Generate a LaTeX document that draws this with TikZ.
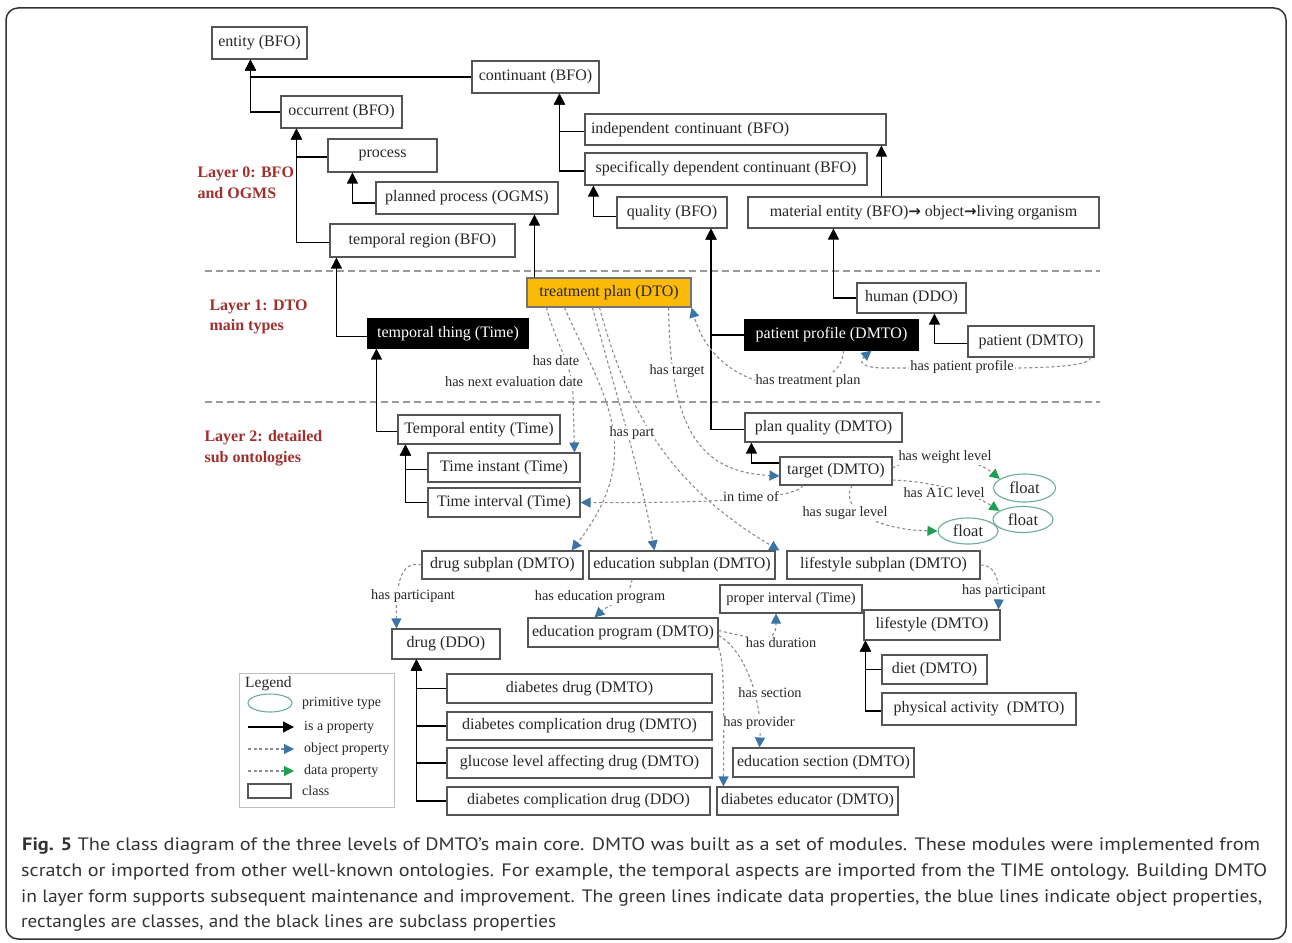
\documentclass[tikz,border=0pt]{standalone}
\usepackage{fontspec}
\usepackage{graphicx}
\setmainfont{Liberation Serif}
\newfontfamily\capfont{PT Sans}
\newfontfamily\arrfont{DejaVu Sans}
\usetikzlibrary{arrows.meta,shapes.geometric,calc}
\definecolor{boxgray}{HTML}{555555}
\definecolor{dashgray}{HTML}{8C8C8C}
\definecolor{objblue}{HTML}{3C74A6}
\definecolor{datgreen}{HTML}{1E9E4F}
\definecolor{floatgreen}{HTML}{6AAE93}
\definecolor{layerred}{HTML}{A0302E}
\definecolor{tpfill}{HTML}{FBBA0A}
\definecolor{sepgray}{HTML}{9A9A9A}
\definecolor{capgray}{HTML}{333333}
\newcommand\thickarr{{\arrfont\bfseries\fontsize{15}{16}\selectfont →}}
\begin{document}
\begin{tikzpicture}[x=1pt,y=-1pt,
  cls/.style={draw=boxgray,line width=1.1pt,fill=white,inner xsep=4pt,inner ysep=0pt,font=\fontsize{16}{19}\selectfont,text=black!85},
  dark/.style={cls,fill=black,draw=black,text=white},
  prim/.style={ellipse,draw=floatgreen,line width=1.1pt,fill=white,inner sep=0pt,font=\fontsize{16.5}{19}\selectfont,text=black!85},
  isa/.style={line width=1.2pt,draw=black,-{Triangle[length=11pt,width=11pt]}},
  obj/.style={draw=dashgray,line width=1.1pt,dash pattern=on 3pt off 2.5pt,-{Triangle[length=10pt,width=10pt,color=objblue]}},
  dat/.style={draw=dashgray,line width=1.1pt,dash pattern=on 3pt off 2.5pt,-{Triangle[length=10pt,width=10pt,color=datgreen]}},
  lbl/.style={font=\fontsize{14.3}{16}\selectfont,fill=white,inner sep=1pt,text=black!85},
  layer/.style={font=\bfseries\fontsize{16}{20.5}\selectfont,text=layerred,align=left,anchor=west},
  sep/.style={draw=sepgray,line width=1.1pt,dash pattern=on 7pt off 4pt},
  leg/.style={font=\fontsize{14}{16}\selectfont,anchor=west,inner sep=0pt,text=black!85},
  capline/.style={anchor=base west,inner sep=0pt,font=\capfont\fontsize{18}{22}\selectfont,text=capgray}
]
\useasboundingbox (0,0) rectangle (1292,942);
\draw[line width=1.5pt,rounded corners=12pt,draw=black!80] (6,8) rectangle (1286,939);

% layer separators and labels
\draw[sep] (205,271) -- (1100,271);
\draw[sep] (205,402) -- (1100,402);
\node[layer] (L0) at (194,183) {Layer 0: BFO\\and OGMS};
\node[layer] (L1) at (206,317) {Layer 1: DTO\\main types};
\node[layer] (L2) at (201,448) {Layer 2: detailed\\sub ontologies};

% class boxes
\node[cls,minimum width=95pt,minimum height=32pt] (entity) at (259.5,43) {entity (BFO)};
\node[cls,minimum width=127pt,minimum height=32pt] (continuant) at (535.5,77) {continuant (BFO)};
\node[cls,minimum width=121pt,minimum height=32pt] (occurrent) at (341.5,112) {occurrent (BFO)};
\node[cls,minimum width=109pt,minimum height=33pt] (process) at (382.5,155.5) {process};
\node[cls,minimum width=182pt,minimum height=32pt] (planned) at (467,198) {planned process (OGMS)};
\node[cls,minimum width=185pt,minimum height=33pt] (tregion) at (422.5,240.5) {temporal region (BFO)};
\node[cls,text width=289pt,align=left,inner xsep=6pt,minimum height=31pt] (indcont) at (735.5,129.5) {independent continuant (BFO)};
\node[cls,minimum width=282pt,minimum height=32pt] (spec) at (726,169) {specifically dependent continuant (BFO)};
\node[cls,minimum width=110pt,minimum height=31pt] (quality) at (672,212.5) {quality (BFO)};
\node[cls,minimum width=351pt,minimum height=31pt] (material) at (923.5,212.5) {material entity (BFO)\thickarr\ object\thickarr living organism};
\node[cls,fill=tpfill,draw=black!55,minimum width=164pt,minimum height=29pt] (treatment) at (609,292.5) {treatment plan (DTO)};
\node[dark,minimum width=160pt,minimum height=29pt] (tthing) at (448,333.5) {temporal thing (Time)};
\node[dark,minimum width=173pt,minimum height=30pt] (pprofile) at (831.5,335) {patient profile (DMTO)};
\node[cls,minimum width=109pt,minimum height=30pt] (human) at (911.5,298) {human (DDO)};
\node[cls,minimum width=126pt,minimum height=31pt] (patient) at (1031,341.5) {patient (DMTO)};
\node[cls,minimum width=162pt,minimum height=29pt] (tentity) at (479,429.5) {Temporal entity (Time)};
\node[cls,minimum width=152pt,minimum height=29pt] (tinstant) at (504,467.5) {Time instant (Time)};
\node[cls,minimum width=152pt,minimum height=29pt] (tinterval) at (504,502.5) {Time interval (Time)};
\node[cls,minimum width=157pt,minimum height=29pt] (planq) at (823.5,427.5) {plan quality (DMTO)};
\node[cls,minimum width=112pt,minimum height=28pt] (target) at (836,471) {target (DMTO)};
\node[prim,minimum width=62pt,minimum height=28pt] (float1) at (1024.5,488) {float};
\node[prim,minimum width=60pt,minimum height=26pt] (float2) at (1023,519.5) {float};
\node[prim,minimum width=60pt,minimum height=26pt] (float3) at (968,531) {float};
\node[cls,minimum width=161pt,minimum height=28pt] (drugsub) at (502.5,565) {drug subplan (DMTO)};
\node[cls,minimum width=186pt,minimum height=28pt] (edusub) at (682,565) {education subplan (DMTO)};
\node[cls,minimum width=193pt,minimum height=28pt] (lifesub) at (883.5,565) {lifestyle subplan (DMTO)};
\node[cls,minimum width=142pt,minimum height=28pt,font=\fontsize{14.5}{17}\selectfont] (properint) at (791,599) {proper interval (Time)};
\node[cls,minimum width=190pt,minimum height=29pt] (eduprog) at (623,632.5) {education program (DMTO)};
\node[cls,minimum width=136pt,minimum height=30pt] (lifestyle) at (932,625) {lifestyle (DMTO)};
\node[cls,minimum width=108pt,minimum height=30pt] (drug) at (446,644) {drug (DDO)};
\node[cls,minimum width=265pt,minimum height=29pt] (ddrug) at (579.5,688.5) {diabetes drug (DMTO)};
\node[cls,minimum width=265pt,minimum height=28pt] (dcd1) at (579.5,726) {diabetes complication drug (DMTO)};
\node[cls,minimum width=265pt,minimum height=30pt] (gla) at (579.5,763) {glucose level affecting drug (DMTO)};
\node[cls,minimum width=263pt,minimum height=28pt] (dcd2) at (578.5,801) {diabetes complication drug (DDO)};
\node[cls,minimum width=181pt,minimum height=29pt] (edusec) at (823.5,762.5) {education section (DMTO)};
\node[cls,minimum width=181pt,minimum height=28pt] (diabedu) at (807.5,801) {diabetes educator (DMTO)};
\node[cls,minimum width=105pt,minimum height=29pt] (diet) at (934.5,669.5) {diet (DMTO)};
\node[cls,minimum width=194pt,minimum height=32pt] (physact) at (979,709) {physical activity~ (DMTO)};

% subclass (is-a) connectors
\draw[isa] (occurrent.west) -| ([xshift=39pt]entity.south west);
\draw[isa] (continuant.west) -| ([xshift=39pt]entity.south west);
\draw[isa] ([yshift=-1.5pt]process.west) -| ([xshift=16pt]occurrent.south west);
\draw[isa] ([yshift=-2pt]tregion.west) -| ([xshift=16pt]occurrent.south west);
\draw[isa] ([yshift=-5pt]planned.west) -| ([xshift=25pt]process.south west);
\draw[isa] ([xshift=8pt]treatment.north west) -- ([xshift=8pt]treatment.north west |- planned.south);
\draw[isa] ([yshift=-3pt]tthing.west) -| ([xshift=7pt]tregion.south west);
\draw[isa] ([yshift=-2pt]tentity.west) -| ([xshift=9pt]tthing.south west);
\draw[isa] ([yshift=-2pt]tinstant.west) -| ([xshift=8pt]tentity.south west);
\draw[isa] (tinterval.west) -| ([xshift=8pt]tentity.south west);
\draw[isa] ([yshift=-2pt]indcont.west) -| ([xshift=88pt]continuant.south west);
\draw[isa] ([yshift=-2pt]spec.west) -| ([xshift=88pt]continuant.south west);
\draw[isa] ([yshift=-4pt]quality.west) -| ([xshift=9pt]spec.south west);
\draw[isa] ([xshift=134pt]material.north west) -- ([xshift=134pt]material.north west |- indcont.south);
\draw[isa] (pprofile.west) -| ([xshift=39pt]quality.south);
\draw[isa] ([yshift=-2pt]planq.west) -| ([xshift=39pt]quality.south);
\draw[isa] (human.west) -| ([xshift=86pt]material.south west);
\draw[isa] ([yshift=-2pt]patient.west) -| ([xshift=78pt]human.south west);
\draw[isa] ([yshift=8pt]target.west) -| ([xshift=7pt]planq.south west);
\draw[isa] (ddrug.west) -| ([xshift=25pt]drug.south west);
\draw[isa] (dcd1.west) -| ([xshift=25pt]drug.south west);
\draw[isa] (gla.west) -| ([xshift=25pt]drug.south west);
\draw[isa] (dcd2.west) -| ([xshift=25pt]drug.south west);
\draw[isa] (diet.west) -| ([xshift=2pt]lifestyle.south west);
\draw[isa] ([yshift=-2pt]physact.west) -| ([xshift=2pt]lifestyle.south west);

% object properties
\draw[obj] ([xshift=20pt]treatment.south west) .. controls (556,345) and (573,365) .. (573,395) -- ([xshift=-6pt]tinstant.north east);
\draw[obj] ([xshift=38pt]treatment.south west) .. controls (600,390) and (650,450) .. ([xshift=-12pt]drugsub.north east);
\draw[obj] ([xshift=66pt]treatment.south west) .. controls (615,390) and (640,470) .. ([xshift=66pt]edusub.north west);
\draw[obj] ([xshift=73pt]treatment.south west) .. controls (625,400) and (660,480) .. ([xshift=-7pt]lifesub.north west);
\draw[obj] ([xshift=-23pt]treatment.south east) .. controls (670,430) and (700,472) .. ([yshift=-5pt]target.west);
\draw[obj] ([xshift=-33pt]target.south) .. controls (795,500) and (700,503) .. (tinterval.east);
\draw[obj] ([xshift=12pt]pprofile.south) .. controls (843,400) and (720,405) .. (treatment.south east);
\draw[obj] ([xshift=-4pt]patient.south east) .. controls (1090,370) and (1000,368) .. (960,368) -- (885,368) .. controls (858,368) and (860,360) .. ([xshift=40pt]pprofile.south);
\draw[obj] (drugsub.west) .. controls (400,560) and (396,585) .. ([xshift=5pt]drug.north west);
\draw[obj] ([xshift=-50pt]edusub.south) .. controls (630,600) and (608,605) .. ([xshift=67pt]eduprog.north west);
\draw[obj] (lifesub.east) .. controls (998,565) and (999,585) .. ([xshift=-2pt]lifestyle.north east);
\draw[obj] ([yshift=2pt]eduprog.east) .. controls (760,640) and (776,645) .. ([xshift=-15pt]properint.south);
\draw[obj] ([yshift=-3pt]eduprog.east) .. controls (745,650) and (762,700) .. ([xshift=27pt]edusec.north west);
\draw[obj] (eduprog.south east) .. controls (724,660) and (724,700) .. ([xshift=7pt]diabedu.north west);

% data properties
\draw[dat] ([yshift=3pt]target.east) .. controls (925,450) and (975,458) .. (float1.160);
\draw[dat] ([yshift=-9pt]target.east) .. controls (940,482) and (975,495) .. (float2.160);
\draw[dat] ([xshift=16pt]target.south) .. controls (838,510) and (880,530) .. (float3.west);

% property labels
\node[lbl] (lhasdate) at (556,361) {has date};
\node[lbl] (lnexteval) at (514,382) {has next evaluation date};
\node[lbl] (lhastarget) at (677,371) {has target};
\node[lbl] (lhaspart) at (632,433) {has part};
\node[lbl] (ltreat) at (808,381) {has treatment plan};
\node[lbl] (lprofile) at (962,367) {has patient profile};
\node[lbl] (ltimeof) at (751,497) {in time of};
\node[lbl] (lweight) at (945,457) {has weight level};
\node[lbl] (la1c) at (944,493) {has A1C level};
\node[lbl] (lsugar) at (845,513) {has sugar level};
\node[lbl] (lpart1) at (413,596) {has participant};
\node[lbl] (leduprog) at (600,597) {has education program};
\node[lbl] (lpart2) at (1004,591) {has participant};
\node[lbl] (ldur) at (781,643) {has duration};
\node[lbl] (lsec) at (770,693) {has section};
\node[lbl] (lprov) at (759,723) {has provider};

% legend
\draw[draw=black!25,line width=1pt] (239,673) rectangle (394,807);
\node[leg,font=\fontsize{15.5}{17}\selectfont] (legtitle) at (245,684) {Legend};
\node[prim,minimum width=44pt,minimum height=18pt] (legell) at (270,703) {};
\node[leg] (legt1) at (302,703) {primitive type};
\coordinate (la1) at (248,727); \coordinate (la2) at (294,727);
\draw[isa] (la1) -- (la2);
\node[leg] (legt2) at (304,727) {is a property};
\coordinate (lb1) at (248,749); \coordinate (lb2) at (294,749);
\draw[obj] (lb1) -- (lb2);
\node[leg] (legt3) at (304,749) {object property};
\coordinate (lc1) at (248,771); \coordinate (lc2) at (294,771);
\draw[dat] (lc1) -- (lc2);
\node[leg] (legt4) at (304,771) {data property};
\node[draw=boxgray,line width=1.1pt,minimum width=43pt,minimum height=14pt,inner sep=0pt] (legbox) at (269.5,791) {};
\node[leg] (legt5) at (302,791) {class};

% caption
\node[capline] (cap1) at (22,850) {\resizebox{1238pt}{\height}{\textbf{Fig. 5} The class diagram of the three levels of DMTO’s main core. DMTO was built as a set of modules. These modules were implemented from}};
\node[capline] (cap2) at (21,876) {\resizebox{1246pt}{\height}{scratch or imported from other well-known ontologies. For example, the temporal aspects are imported from the TIME ontology. Building DMTO}};
\node[capline] (cap3) at (21,902) {\resizebox{1241pt}{\height}{in layer form supports subsequent maintenance and improvement. The green lines indicate data properties, the blue lines indicate object properties,}};
\node[capline] (cap4) at (21,927) {\resizebox{535pt}{\height}{rectangles are classes, and the black lines are subclass properties}};
\end{tikzpicture}
\end{document}
